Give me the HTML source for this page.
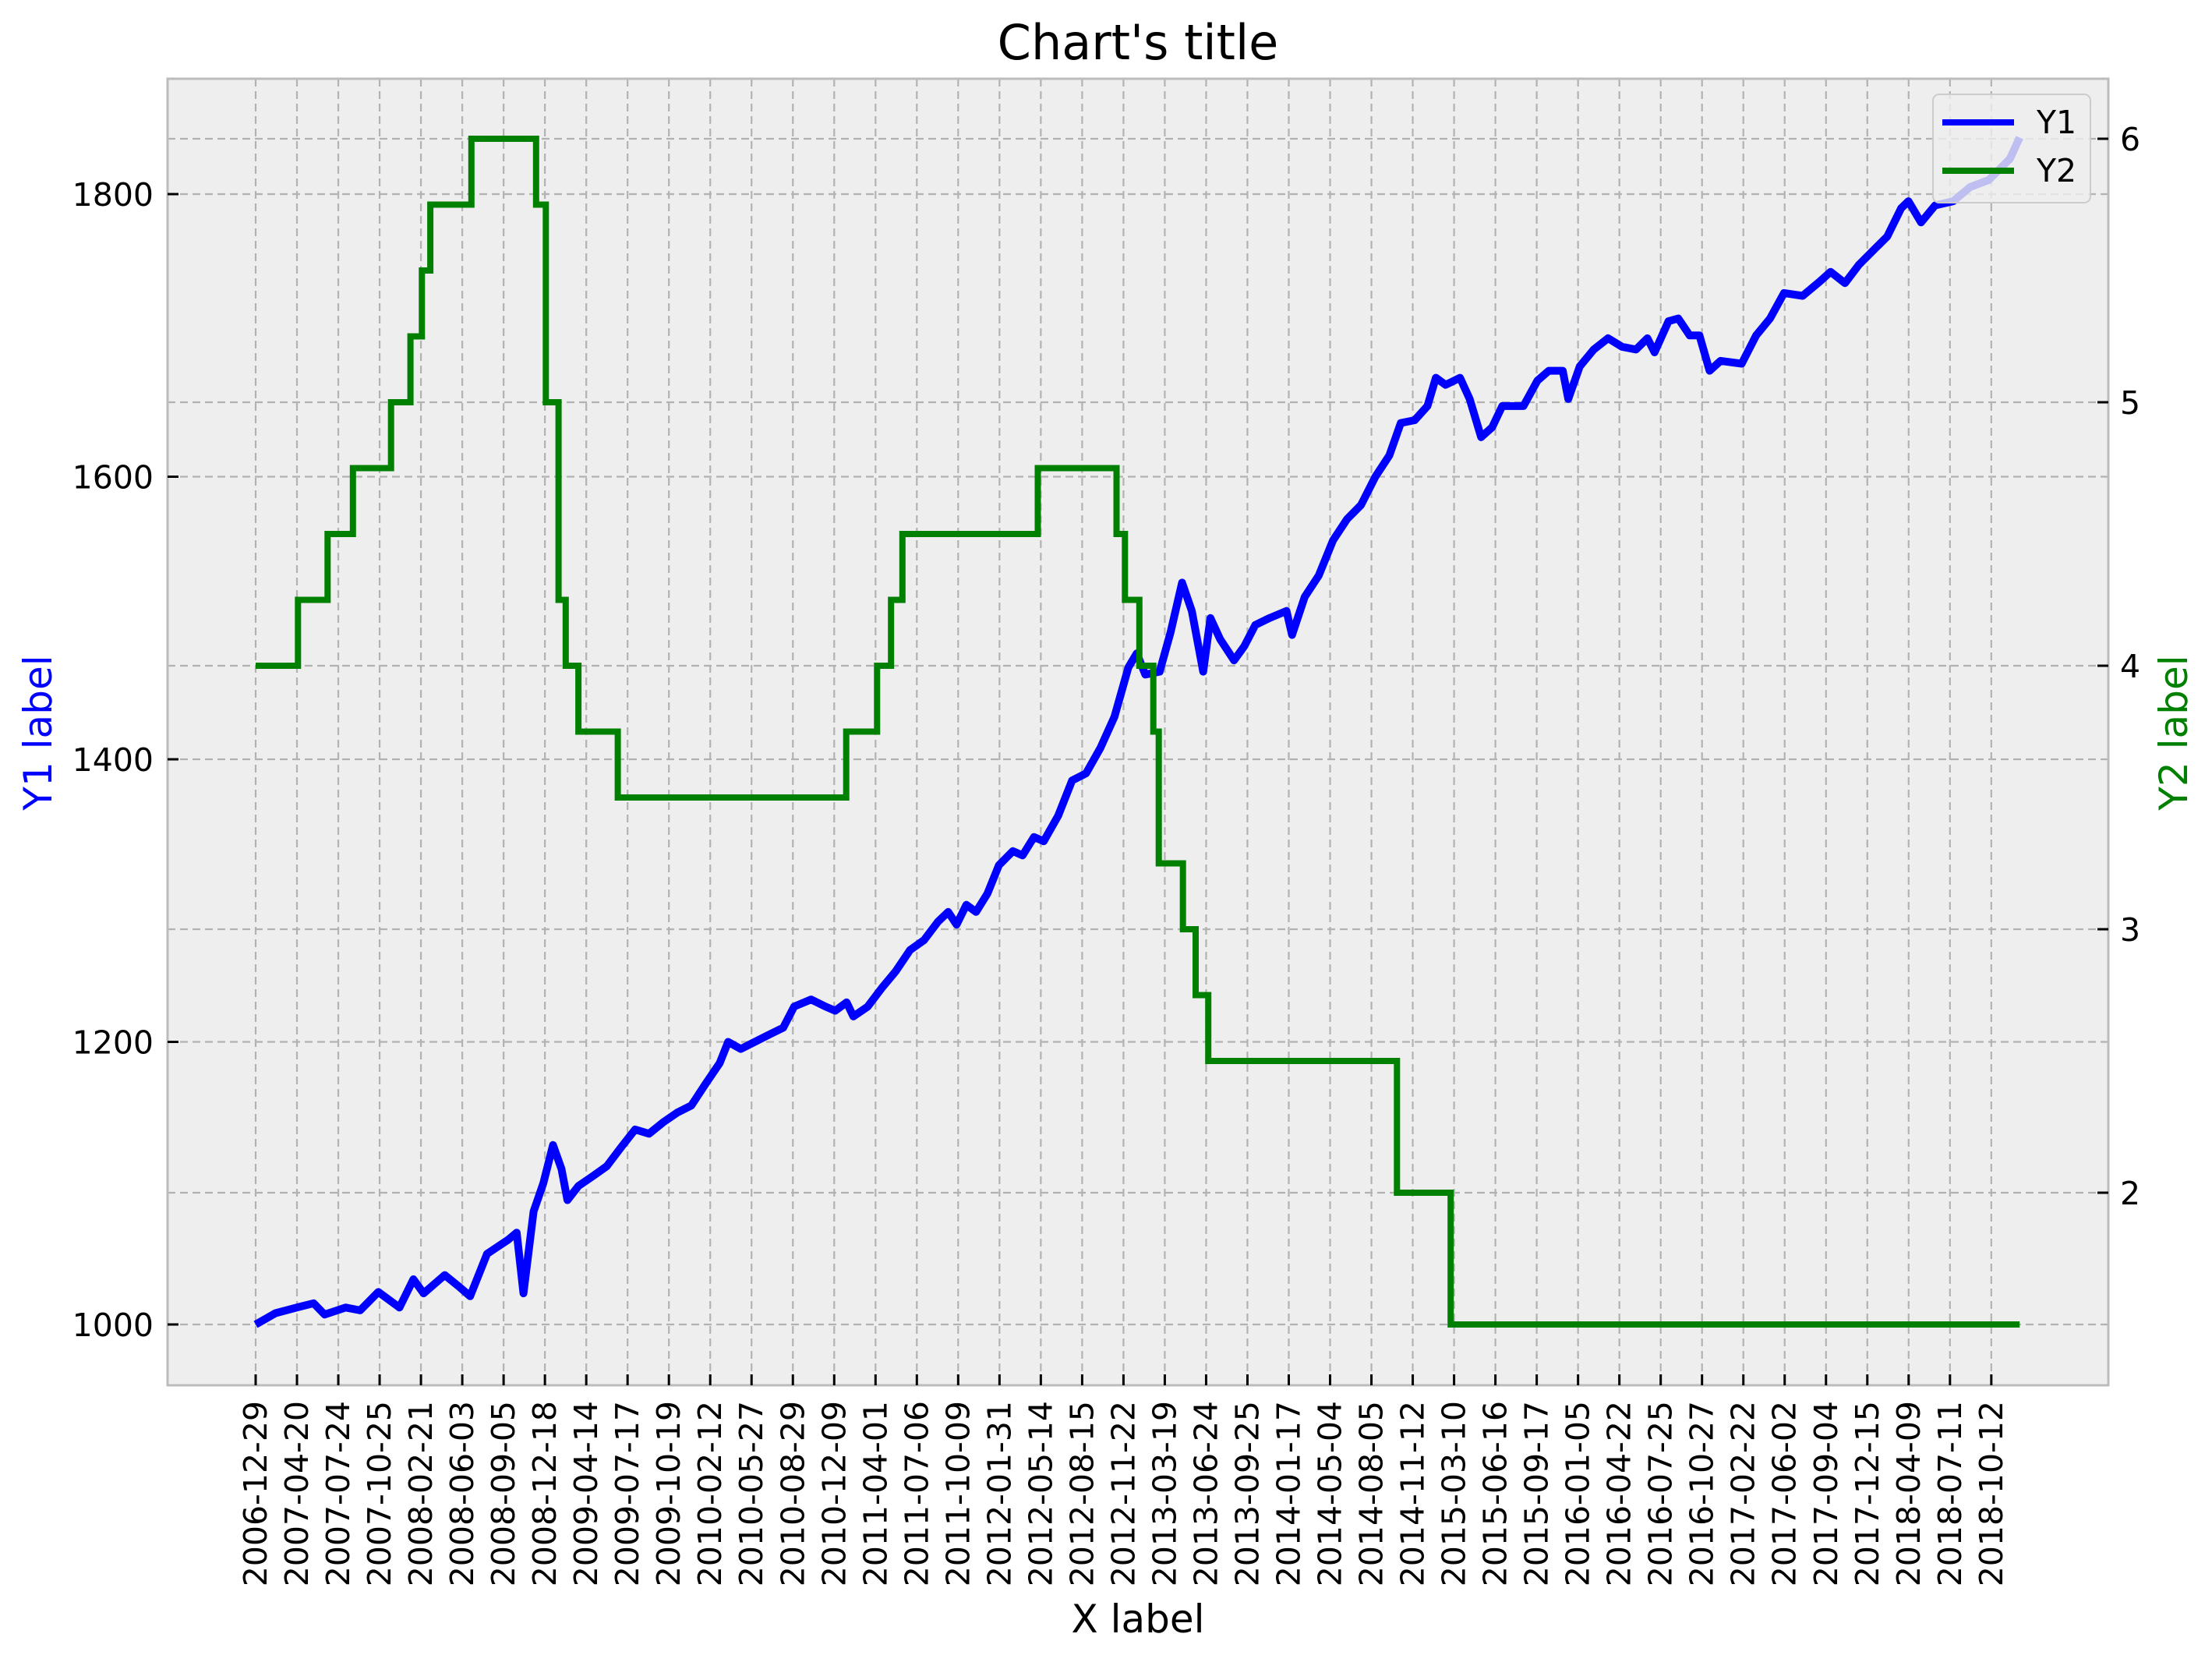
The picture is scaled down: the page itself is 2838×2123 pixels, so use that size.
<!DOCTYPE html>
<html><head><meta charset="utf-8"><style>
html,body{margin:0;padding:0;background:#fff;}
svg{display:block;font-family:"DejaVu Sans","Liberation Sans",sans-serif;}
</style></head><body>
<svg id="chart" width="2838" height="2123" viewBox="0 0 2838 2123" xmlns="http://www.w3.org/2000/svg">
<rect x="215" y="101" width="2490" height="1676" fill="#eeeeee"/>
<g id="grid"></g>
<g id="series"></g>
<rect x="215" y="101" width="2490" height="1676" fill="none" stroke="#bcbcbc" stroke-width="3"/>
<g id="axes"></g>
<text x="1460" y="76" font-size="62" text-anchor="middle">Chart's title</text>
<text x="1460" y="2094" font-size="50" text-anchor="middle">X label</text>
<text transform="translate(66,940) rotate(-90)" font-size="50" fill="#0000ff" text-anchor="middle">Y1 label</text>
<text transform="translate(2806,940) rotate(-90)" font-size="50" fill="#008000" text-anchor="middle">Y2 label</text>
<g>
<rect x="2480" y="121" width="202" height="139" rx="8" fill="#eeeeee" fill-opacity="0.8" stroke="#cccccc" stroke-width="2"/>
<line x1="2492" y1="157" x2="2584" y2="157" stroke="#0000ff" stroke-width="8"/>
<text x="2613" y="171" font-size="41">Y1</text>
<line x1="2492" y1="219" x2="2584" y2="219" stroke="#008000" stroke-width="8"/>
<text x="2613" y="233" font-size="41">Y2</text>
</g>
</svg>
<script>
const tickLabels = ["2006-12-29","2007-04-20","2007-07-24","2007-10-25","2008-02-21","2008-06-03","2008-09-05","2008-12-18","2009-04-14","2009-07-17","2009-10-19","2010-02-12","2010-05-27","2010-08-29","2010-12-09","2011-04-01","2011-07-06","2011-10-09","2012-01-31","2012-05-14","2012-08-15","2012-11-22","2013-03-19","2013-06-24","2013-09-25","2014-01-17","2014-05-04","2014-08-05","2014-11-12","2015-03-10","2015-06-16","2015-09-17","2016-01-05","2016-04-22","2016-07-25","2016-10-27","2017-02-22","2017-06-02","2017-09-04","2017-12-15","2018-04-09","2018-07-11","2018-10-12"];
const y1Ticks = [1000,1200,1400,1600,1800];
const y2Ticks = [2,3,4,5,6];
const y1X = [0,0.47,0.97,1.37,1.63,2.13,2.47,2.9,3.4,3.73,3.97,4.47,4.8,5.07,5.47,5.97,6.17,6.33,6.57,6.8,7.03,7.23,7.37,7.63,7.97,8.3,8.63,8.97,9.3,9.63,9.97,10.3,10.63,10.97,11.17,11.47,11.8,12.13,12.47,12.73,13.13,13.47,13.7,13.97,14.13,14.47,14.8,15.13,15.47,15.8,16.13,16.37,16.57,16.8,17.03,17.3,17.57,17.9,18.13,18.4,18.63,18.97,19.3,19.63,19.97,20.3,20.63,20.83,21.03,21.37,21.63,21.9,22.13,22.4,22.57,22.8,23.13,23.37,23.63,23.97,24.37,24.5,24.8,25.13,25.47,25.8,26.13,26.47,26.8,27.07,27.4,27.7,27.9,28.13,28.47,28.7,28.97,29.23,29.47,29.97,30.3,30.57,30.9,31.03,31.3,31.63,31.97,32.3,32.63,32.9,33.07,33.4,33.63,33.9,34.13,34.37,34.63,35.13,35.47,35.8,36.13,36.57,36.97,37.23,37.57,37.9,38.3,38.57,38.9,39.07,39.37,39.7,40.13,40.53,40.97,41.47,41.7];
const y1Values = [1000,1008,1012,1015,1007,1012,1010,1023,1012,1032,1022,1035,1027,1020,1050,1060,1065,1022,1080,1100,1127,1110,1088,1098,1105,1112,1125,1138,1135,1143,1150,1155,1170,1185,1200,1195,1200,1205,1210,1225,1230,1225,1222,1228,1218,1225,1238,1250,1265,1272,1285,1292,1283,1297,1292,1305,1325,1335,1332,1345,1342,1360,1385,1390,1408,1430,1465,1475,1460,1462,1490,1525,1505,1462,1500,1485,1470,1480,1495,1500,1505,1488,1515,1530,1555,1570,1580,1600,1615,1638,1640,1650,1670,1665,1670,1655,1628,1635,1650,1650,1668,1675,1675,1655,1678,1690,1698,1692,1690,1698,1688,1710,1712,1700,1700,1675,1682,1680,1700,1712,1730,1728,1738,1745,1737,1750,1762,1770,1790,1795,1780,1792,1795,1805,1810,1825,1840];
const y2StepX = [0,1.0,1.7,2.3,3.2,3.66,3.93,4.13,5.1,6.63,6.86,7.16,7.33,7.63,8.56,13.96,14.69,15.02,15.29,18.49,20.35,20.55,20.89,21.22,21.35,21.92,22.22,22.52,26.98,28.25];
const y2StepValues = [4.0,4.25,4.5,4.75,5.0,5.25,5.5,5.75,6.0,5.75,5.0,4.25,4.0,3.75,3.5,3.75,4.0,4.25,4.5,4.75,4.5,4.25,4.0,3.75,3.25,3.0,2.75,2.5,2.0,1.5];
const y2End = 41.7;

const NS = "http://www.w3.org/2000/svg";
const PL = 215, PR = 2705, PT = 101, PB = 1777;
const UPT = 41.03 / 42;
function xScale(u){ return 328 + (u / UPT) * 53.02; }
function tickX(i){ return 328 + i * 53.02; }
function y1Scale(v){ return 1699 - (v - 1000) * (1450 / 800); }
function y2Scale(v){ return 1699 - (v - 1.5) * (1521 / 4.5); }
function mk(tag, attrs, parent){ const e = document.createElementNS(NS, tag); for (const k in attrs) e.setAttribute(k, attrs[k]); parent.appendChild(e); return e; }

const grid = document.getElementById('grid');
const axes = document.getElementById('axes');
const series = document.getElementById('series');
const gs = {stroke:'#b2b2b2','stroke-width':2.2,'stroke-dasharray':'10,6',fill:'none'};

tickLabels.forEach((lab, i) => {
  const x = tickX(i);
  const g = mk('line', Object.assign({x1:x,y1:PT,x2:x,y2:PB}, gs), grid);
  
  
  const t = mk('line', {x1:x,y1:PB,x2:x,y2:PB-14,stroke:'#000','stroke-width':3}, axes);
  
  
  const tx = mk('text', {transform:`translate(${x+14},1797) rotate(-90)`,'font-size':41,'text-anchor':'end'}, axes);
  tx.textContent = lab;
  
  
});
y1Ticks.forEach(v => {
  const y = y1Scale(v);
  const g = mk('line', Object.assign({x1:PL,y1:y,x2:PR,y2:y}, gs), grid);
  
  
  const t = mk('line', {x1:PL,y1:y,x2:PL+14,y2:y,stroke:'#000','stroke-width':3}, axes);
  
  
  const tx = mk('text', {x:197,y:y+15,'font-size':41,'text-anchor':'end'}, axes);
  tx.textContent = v;
  
  
});
y2Ticks.forEach(v => {
  const y = y2Scale(v);
  const g = mk('line', Object.assign({x1:PL,y1:y,x2:PR,y2:y}, gs), grid);
  
  
  const t = mk('line', {x1:PR-14,y1:y,x2:PR,y2:y,stroke:'#000','stroke-width':3}, axes);
  
  
  const tx = mk('text', {x:2720,y:y+15,'font-size':41,'text-anchor':'start'}, axes);
  tx.textContent = v;
  
  
});

let d1 = y1X.map((u, i) => (i ? 'L' : 'M') + xScale(u).toFixed(1) + ',' + y1Scale(y1Values[i]).toFixed(1)).join(' ');
const p1 = mk('path', {d:d1, stroke:'#0000ff', 'stroke-width':10, fill:'none', 'stroke-linejoin':'round'}, series);



let d2 = '';
y2StepX.forEach((u, i) => {
  const x = xScale(u), y = y2Scale(y2StepValues[i]);
  d2 += (i ? `L${x.toFixed(1)},${y2Scale(y2StepValues[i-1]).toFixed(1)} L${x.toFixed(1)},${y.toFixed(1)} ` : `M${x.toFixed(1)},${y.toFixed(1)} `);
});
d2 += `L${xScale(y2End).toFixed(1)},${y2Scale(y2StepValues[y2StepValues.length-1]).toFixed(1)}`;
const p2 = mk('path', {d:d2, stroke:'#008000', 'stroke-width':8, fill:'none'}, series);


</script>
</body></html>
